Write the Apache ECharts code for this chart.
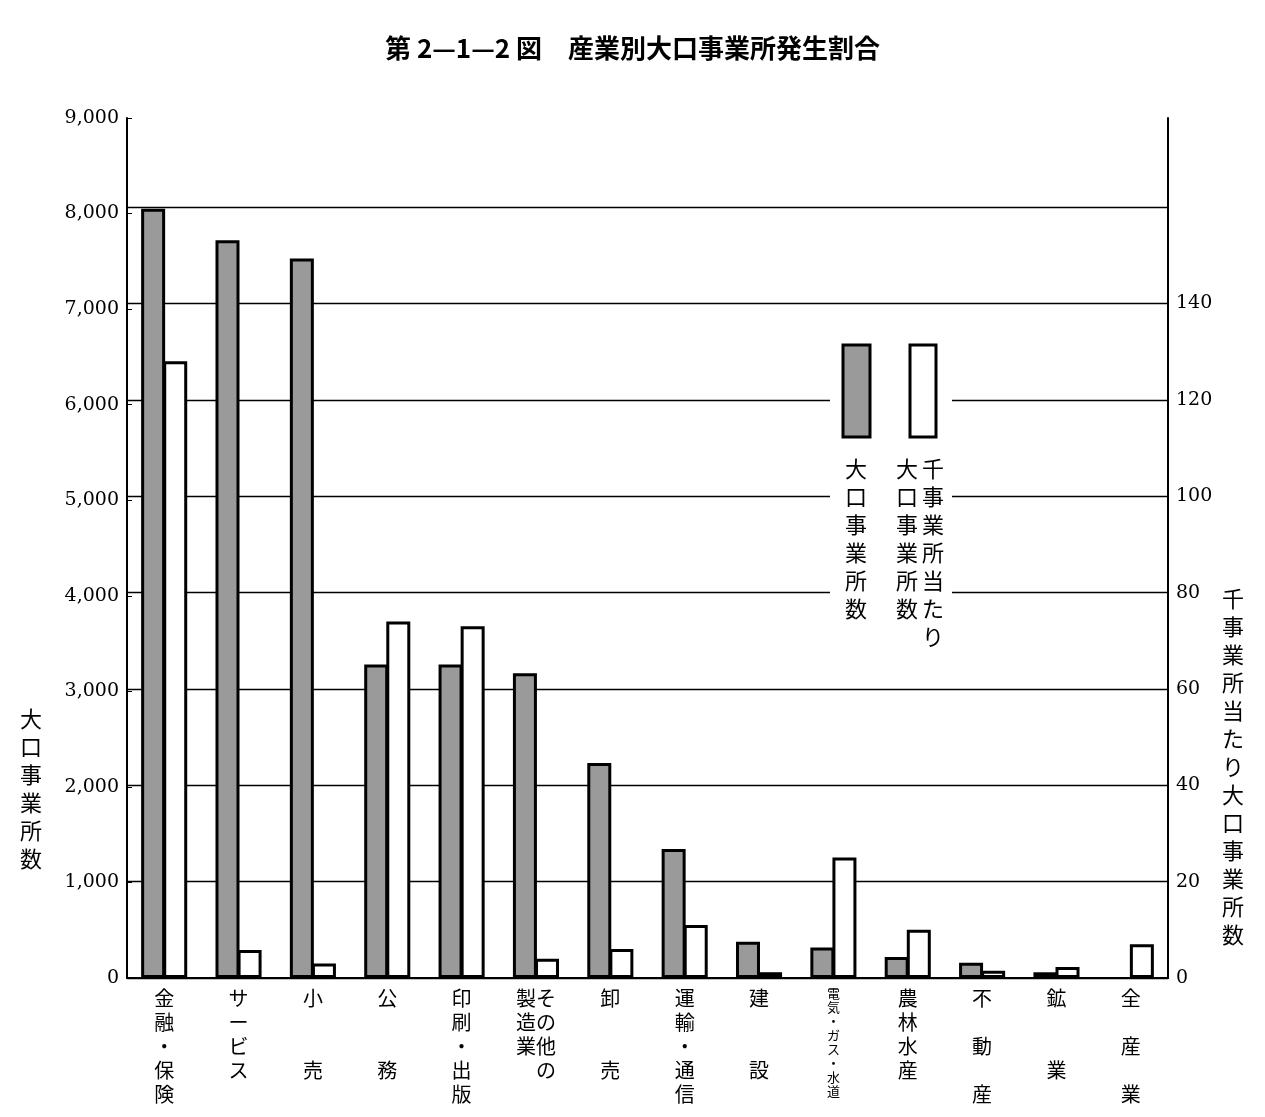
<!DOCTYPE html>
<html><head><meta charset="utf-8">
<script src="https://cdn.jsdelivr.net/npm/echarts@6/dist/echarts.min.js"></script>
<style>html,body{margin:0;background:#fff}#c{width:1265px;height:1117px}</style>
</head><body><div id="c"></div>
<script>
const categories = ['金融・保険','サービス','小売','公務','印刷・出版','その他の製造業','卸売','運輸・通信','建設','電気・ガス・水道','農林水産','不動産','鉱業','全産業'];
const labelText = ['金\n融\n・\n保\n険','サ\nー\nビ\nス','小\n\n\n売','公\n\n\n務','印\n刷\n・\n出\n版','製そ\n造の\n業他\n　の','卸\n\n\n売','運\n輸\n・\n通\n信','建\n\n\n設','{s|電}\n{s|気}\n{s|・}\n{s|ガ}\n{s|ス}\n{s|・}\n{s|水}\n{s|道}','農\n林\n水\n産','不\n\n動\n\n産','鉱\n\n\n業','全\n\n産\n\n業'];
const largeCounts = [8050,7720,7530,3280,3280,3190,2250,1350,380,320,220,160,60,null];
const perThousand = [128,5.8,3,74,73,4,6,11,1.2,25,10,1.5,2.3,7];
const leftTicks = [0,1000,2000,3000,4000,5000,6000,7000,8000,9000];
const rightTicks = [0,20,40,60,80,100,120,140];
const ff = '"Noto Sans CJK JP", sans-serif';
const vt = s => s.split('').join('\n');
const chart = echarts.init(document.getElementById('c'));
chart.setOption({
  animation:false,
  title:{text:'第 2—1—2 図　産業別大口事業所発生割合',left:'center',top:30,textStyle:{fontFamily:ff,fontSize:26,fontWeight:'bold',color:'#000'}},
  grid:{left:127,right:97,top:118,bottom:139,containLabel:false,outerBoundsMode:'none'},
  xAxis:{type:'category',data:categories,axisLine:{show:true,lineStyle:{color:'#000',width:2}},axisTick:{show:false},
    axisLabel:{interval:0,fontFamily:ff,fontSize:20,lineHeight:24,color:'#000',margin:8,verticalAlign:'top',
      rich:{s:{fontFamily:ff,fontSize:13,lineHeight:14,color:'#000'}},
      formatter:(v,i)=>labelText[i]}},
  yAxis:[
    {type:'value',min:0,max:9000,interval:1000,position:'left',splitLine:{show:false},
     axisLine:{show:true,lineStyle:{color:'#000',width:2}},axisTick:{show:true,inside:true,length:5},
     axisLabel:{fontFamily:'"DejaVu Serif", serif',fontSize:19,color:'#000',formatter:v=>v.toLocaleString('en-US')}},
    {type:'value',min:0,max:178.5,interval:20,position:'right',
     splitLine:{show:true,lineStyle:{color:['#000','#000','#000','#000','#000','#000','#000','#000','#000','rgba(0,0,0,0)'],width:1.3}},
     axisLine:{show:true,lineStyle:{color:'#000',width:2}},axisTick:{show:false},
     axisLabel:{fontFamily:'"DejaVu Serif", serif',fontSize:19,color:'#000',formatter:v=>rightTicks.includes(v)?String(v):''}}
  ],
  series:[
    {type:'bar',yAxisIndex:0,data:largeCounts,barWidth:24,barGap:'-8%',z:3,
     itemStyle:{color:'#9a9a9a',borderColor:'#000',borderWidth:3}},
    {type:'bar',yAxisIndex:1,data:perThousand,barWidth:24,z:3,
     itemStyle:{color:'#fff',borderColor:'#000',borderWidth:3}}
  ],
  graphic:[
    {type:'rect',shape:{x:830,y:335,width:122,height:330},style:{fill:'#fff'},z:10},
    {type:'rect',shape:{x:843,y:345,width:27,height:92},style:{fill:'#9a9a9a',stroke:'#000',lineWidth:3},z:11},
    {type:'rect',shape:{x:910,y:345,width:26,height:92},style:{fill:'#fff',stroke:'#000',lineWidth:3},z:11},
    {type:'text',left:845,top:455,style:{text:vt('大口事業所数'),font:'22px '+ff,lineHeight:28,fill:'#000'},z:11},
    {type:'text',left:896,top:455,style:{text:vt('大口事業所数'),font:'22px '+ff,lineHeight:28,fill:'#000'},z:11},
    {type:'text',left:922,top:455,style:{text:vt('千事業所当たり'),font:'22px '+ff,lineHeight:28,fill:'#000'},z:11},
    {type:'text',left:20,top:705,style:{text:vt('大口事業所数'),font:'22px '+ff,lineHeight:28,fill:'#000'}},
    {type:'text',left:1222,top:585,style:{text:vt('千事業所当たり大口事業所数'),font:'22px '+ff,lineHeight:28,fill:'#000'}}
  ]
});
</script></body></html>
